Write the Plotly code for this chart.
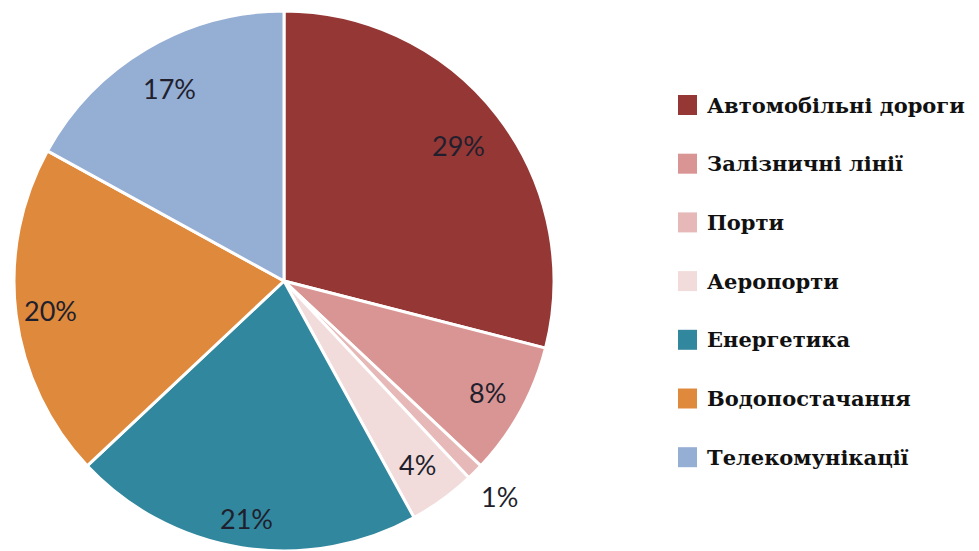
import math
import plotly.graph_objects as go

labels = ["Автомобільні дороги", "Залізничні лінії", "Порти", "Аеропорти",
          "Енергетика", "Водопостачання", "Телекомунікації"]
values = [29, 8, 1, 4, 21, 20, 17]
colors = ["#953735", "#D99594", "#E6B9B8", "#F2DCDB", "#31879D", "#DE893C", "#95AED4"]
# radial position of each percentage label, as a fraction of the pie radius
label_radius = [0.82, 0.86, 1.13, 0.84, 0.89, 0.87, 0.83]

W, H = 979, 551
OFF = 8  # page body margin offset in the screenshot
CX, CY, R = 284 - OFF, 281 - OFF, 270


def px_x(x):
    return x / W


def px_y(y):
    return 1 - y / H


fig = go.Figure()
fig.add_trace(go.Pie(
    labels=labels,
    values=values,
    sort=False,
    direction="clockwise",
    rotation=0,
    marker=dict(colors=colors, line=dict(color="white", width=3)),
    textinfo="none",
    domain=dict(x=[px_x(CX - R), px_x(CX + R)], y=[px_y(CY + R), px_y(CY - R)]),
    showlegend=False,
    hoverinfo="label+percent",
))

# percentage labels placed at each slice's mid-angle
total = sum(values)
cum = 0
for v, rf in zip(values, label_radius):
    mid = (cum + v / 2) / total * 2 * math.pi
    cum += v
    x = CX + rf * R * math.sin(mid)
    y = CY - rf * R * math.cos(mid)
    fig.add_annotation(xref="paper", yref="paper", x=px_x(x), y=px_y(y),
                       text=f"{round(v / total * 100)}%", showarrow=False,
                       xanchor="center", yanchor="middle",
                       font=dict(family="Lato, Open Sans, sans-serif", size=27, color="#1f1f2d"))

# legend drawn as squares + text
y0 = 105 - OFF
dy = 58.7
for i, (lab, col) in enumerate(zip(labels, colors)):
    yc = y0 + i * dy
    fig.add_shape(type="rect", xref="paper", yref="paper",
                  x0=px_x(678 - OFF), x1=px_x(697 - OFF),
                  y0=px_y(yc + 10), y1=px_y(yc - 10),
                  fillcolor=col, line=dict(width=0))
    fig.add_annotation(xref="paper", yref="paper", x=px_x(705 - OFF), y=px_y(yc),
                       text="<b>" + lab + "</b>", showarrow=False,
                       xanchor="left", yanchor="middle",
                       font=dict(family="DejaVu Serif, serif", size=21, color="#111111"))

fig.update_layout(
    width=W, height=H,
    margin=dict(l=0, r=0, t=0, b=0),
    paper_bgcolor="white",
    plot_bgcolor="white",
)

fig.write_html("out.html")
